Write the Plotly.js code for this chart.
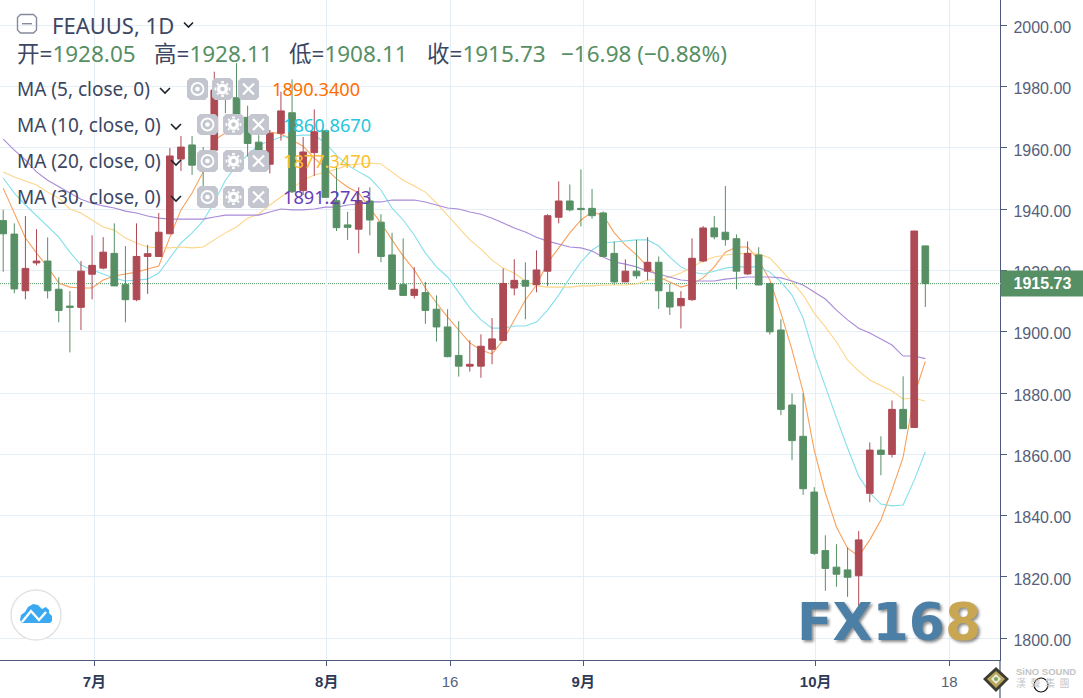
<!DOCTYPE html>
<html>
<head>
<meta charset="utf-8">
<script src="https://cdn.plot.ly/plotly-3.0.1.min.js"></script>
<style>html,body{margin:0;padding:0;background:#fff;overflow:hidden}#chart{width:1083px;height:698px}</style>
</head>
<body>
<div id="chart"></div>
<script>
const opens=[1936.3,1931.9,1913.4,1922.5,1923.1,1913.9,1908.4,1908.0,1918.8,1920.8,1925.6,1915.4,1910.5,1924.6,1924.6,1932.0,1956.4,1961.0,1958.4,1959.3,1980.9,1976.4,1970.0,1961.9,1954.7,1964.8,1971.5,1946.1,1958.5,1965.6,1942.8,1934.9,1933.5,1942.7,1935.8,1925.1,1915.4,1911.9,1912.8,1907.4,1901.6,1892.3,1888.8,1888.8,1894.3,1897.2,1914.3,1916.8,1915.4,1919.8,1937.4,1942.7,1940.3,1940.3,1938.8,1925.6,1916.3,1919.8,1919.8,1922.7,1912.9,1908.5,1910.5,1923.1,1933.9,1932.5,1930.4,1918.9,1925.1,1915.8,1900.6,1876.1,1865.9,1847.7,1828.6,1823.2,1822.3,1820.4,1847.3,1861.4,1860.0,1874.7,1868.8,1928.05];
const highs=[1939.8,1935.4,1937.8,1933.5,1930.8,1917.8,1913.3,1923.1,1931.5,1930.9,1935.4,1928.0,1935.4,1928.4,1938.8,1960.0,1963.9,1963.9,1960.3,1984.9,1982.2,1987.7,1973.8,1964.2,1965.9,1978.4,1982.4,1963.6,1972.6,1965.9,1953.9,1939.2,1947.2,1947.2,1938.4,1932.3,1930.5,1921.1,1916.3,1911.9,1907.4,1903.5,1897.2,1899.2,1904.5,1920.7,1923.7,1922.7,1926.6,1938.4,1949.1,1948.1,1953.0,1946.6,1939.3,1929.5,1923.7,1930.0,1930.9,1924.6,1915.6,1913.3,1930.5,1934.5,1937.8,1947.6,1931.8,1929.5,1927.6,1916.0,1904.1,1879.9,1879.9,1849.3,1833.6,1830.7,1829.7,1835.0,1863.9,1865.9,1877.6,1885.5,1932.9,1928.11];
const lows=[1919.6,1912.6,1910.6,1921.7,1910.9,1903.1,1893.3,1900.6,1910.6,1920.4,1914.9,1903.1,1910.0,1912.4,1924.5,1931.9,1952.5,1951.2,1947.6,1957.7,1971.4,1969.8,1957.2,1957.7,1951.7,1962.4,1945.3,1944.7,1950.9,1943.7,1932.9,1930.0,1925.6,1931.5,1922.7,1913.6,1911.7,1910.9,1902.6,1896.8,1891.7,1885.4,1887.0,1885.0,1889.4,1897.1,1911.9,1904.1,1912.9,1914.9,1935.4,1939.3,1934.4,1936.9,1924.5,1915.4,1916.2,1917.3,1916.8,1907.5,1905.5,1901.1,1910.1,1922.7,1930.2,1928.1,1913.9,1918.6,1915.2,1899.1,1872.8,1858.1,1846.8,1827.2,1815.5,1816.8,1813.5,1810.6,1844.4,1853.2,1859.0,1868.3,1868.6,1908.11];
const closes=[1932.0,1914.0,1920.7,1923.1,1913.4,1907.0,1908.0,1919.8,1921.7,1926.0,1915.0,1910.5,1924.6,1925.5,1932.5,1957.4,1960.3,1954.4,1953.5,1978.9,1977.0,1971.0,1961.5,1959.3,1964.8,1972.1,1945.7,1958.7,1965.3,1943.9,1934.0,1934.1,1942.8,1936.5,1924.6,1913.9,1911.9,1913.9,1907.0,1901.6,1891.9,1888.8,1889.4,1895.3,1897.7,1915.8,1916.8,1914.9,1920.2,1937.9,1942.7,1939.8,1939.9,1937.9,1924.6,1916.3,1919.8,1918.3,1922.7,1913.4,1908.1,1910.9,1924.0,1933.9,1931.0,1930.1,1919.8,1925.6,1915.3,1900.0,1874.7,1864.5,1848.8,1827.7,1822.8,1820.9,1819.9,1832.1,1861.4,1860.0,1874.7,1868.4,1932.9,1915.73];

const ma5=[1946.9,1938.8,1930.6,1925.7,1921.2,1915.9,1914.6,1914.3,1914.3,1916.9,1918.2,1918.9,1919.5,1920.5,1921.5,1930.9,1939.8,1945.3,1952.2,1962.6,1964.9,1966.8,1967.5,1966.5,1965.2,1964.6,1962.6,1960.6,1956.7,1953.5,1949.9,1947.3,1945.3,1940.4,1935.5,1930.0,1924.7,1920.2,1914.3,1909.4,1904.8,1900.6,1896.4,1894.1,1892.8,1897.3,1903.9,1910.4,1915.3,1922.5,1927.4,1932.3,1936.5,1939.1,1938.1,1932.3,1928.3,1925.1,1921.2,1917.9,1916.3,1914.6,1915.6,1917.6,1921.2,1926.0,1927.7,1927.7,1923.4,1916.9,1906.1,1894.1,1880.4,1861.4,1847.4,1836.3,1829.4,1826.8,1832.1,1838.6,1848.4,1859.1,1879.4,1890.34];
const ma10=[1950.2,1945.3,1941.4,1937.8,1934.2,1930.9,1926.0,1921.8,1920.2,1918.9,1917.6,1916.6,1916.9,1917.2,1919.2,1924.1,1929.0,1932.3,1936.2,1942.4,1949.5,1954.4,1957.7,1961.0,1962.3,1963.6,1963.9,1964.2,1964.2,1961.6,1957.7,1954.4,1952.2,1950.2,1946.3,1940.4,1936.5,1931.6,1925.7,1921.2,1917.9,1912.7,1907.8,1903.9,1901.2,1901.2,1901.9,1901.9,1903.2,1907.1,1912.0,1917.6,1922.8,1926.7,1929.0,1929.3,1929.6,1930.0,1930.0,1928.0,1924.4,1921.2,1919.5,1918.9,1919.8,1920.8,1921.2,1921.2,1921.2,1919.5,1916.3,1912.0,1904.5,1892.4,1882.0,1871.9,1862.1,1852.9,1847.4,1843.8,1843.2,1843.5,1851.6,1860.87];
const ma20=[1952.2,1950.5,1949.2,1947.9,1945.6,1943.7,1940.1,1938.8,1936.5,1934.2,1933.2,1930.6,1929.0,1927.7,1927.4,1927.4,1927.7,1927.4,1927.7,1930.0,1932.3,1934.2,1937.1,1938.4,1941.4,1944.0,1946.9,1949.5,1951.2,1952.2,1953.1,1954.4,1954.8,1955.1,1954.8,1952.2,1949.5,1947.6,1945.6,1942.0,1938.1,1933.9,1930.0,1927.0,1923.4,1920.8,1919.2,1916.6,1915.0,1914.6,1914.6,1914.6,1915.0,1915.0,1915.3,1915.3,1915.3,1915.6,1916.9,1916.9,1917.9,1919.2,1921.2,1923.1,1924.4,1925.1,1925.4,1925.7,1925.4,1924.1,1920.2,1916.3,1912.0,1906.1,1901.6,1896.7,1890.8,1887.2,1884.3,1882.6,1880.7,1878.1,1878.4,1877.35];
const ma30=[1962.9,1959.3,1956.1,1952.2,1949.5,1947.3,1945.3,1943.3,1942.0,1941.1,1940.4,1939.4,1938.8,1937.8,1937.1,1936.8,1936.8,1936.8,1936.8,1937.5,1938.1,1938.1,1938.1,1938.1,1939.1,1940.1,1939.8,1939.8,1940.1,1940.7,1940.7,1941.4,1941.7,1942.4,1942.4,1943.0,1943.0,1943.0,1942.4,1941.4,1940.4,1940.1,1939.1,1938.4,1937.1,1935.5,1933.9,1932.6,1930.9,1929.6,1928.7,1927.7,1927.4,1926.4,1924.4,1922.8,1922.1,1921.2,1919.8,1918.9,1917.9,1916.9,1916.6,1916.6,1916.6,1917.2,1917.6,1917.9,1917.9,1917.9,1917.6,1916.6,1915.3,1913.0,1910.7,1907.1,1903.9,1901.2,1899.6,1897.7,1895.7,1892.1,1892.1,1891.27];

const xTickPositions=[8.2,29.12,40.22,52.21,73.13,85.16];
const xTickLabels=['<b>7月</b>','<b>8月</b>','<span style="color:#565f7a">16</span>','<b>9月</b>','<b>10月</b>','<span style="color:#565f7a">18</span>'];
const yTicks=[1800,1820,1840,1860,1880,1900,1920,1940,1960,1980,2000];
const lastPrice=1915.73;
const barIndex=opens.map((_,i)=>i);

const UP='#ae4a54', DOWN='#578f65';
const GREEN='#578f65', INK='#3c4763';
const xRange=[-0.288,89.72], yRange=[1792.9,2008.3];

// overlay helpers (screen-pixel furniture only)
const X=p=>p/1000, Y=p=>1-p/660;
const shapes=[], notes=[];
function seg(x0,y0,x1,y1,color,w){shapes.push({type:'line',xref:'paper',yref:'paper',x0:X(x0),y0:Y(y0),x1:X(x1),y1:Y(y1),line:{color:color,width:w}});}
function poly(pts,fill,close){const d=pts.map((p,i)=>(i?'L':'M')+X(p[0])+','+Y(p[1])).join(' ')+(close?' Z':'');shapes.push({type:'path',xref:'paper',yref:'paper',path:d,fillcolor:fill,line:{width:0}});}
function line(pts,color,w){const d=pts.map((p,i)=>(i?'L':'M')+X(p[0])+','+Y(p[1])).join(' ');shapes.push({type:'path',xref:'paper',yref:'paper',path:d,line:{color:color,width:w}});}
function circ(cx,cy,r,fill,color,w){shapes.push({type:'circle',xref:'paper',yref:'paper',x0:X(cx-r),x1:X(cx+r),y0:Y(cy+r),y1:Y(cy-r),fillcolor:fill,line:{color:color,width:w}});}
function rrect(x0,y0,x1,y1,r,fill,color,w){const k=[[x0+r,y0],[x1-r,y0],[x1,y0+r],[x1,y1-r],[x1-r,y1],[x0+r,y1],[x0,y1-r],[x0,y0+r]];const d=k.map((p,i)=>(i?'L':'M')+X(p[0])+','+Y(p[1])).join(' ')+' Z';shapes.push({type:'path',xref:'paper',yref:'paper',path:d,fillcolor:fill,line:color?{color:color,width:w}:{width:0}});}
const FONT='"Noto Sans","Noto Sans CJK SC",sans-serif';
const NUMFONT='"Liberation Sans","Noto Sans CJK SC",sans-serif';
function note(text,x,y,size,color,opt){notes.push(Object.assign({xref:'paper',yref:'paper',x:X(x),y:Y(y),text:text,showarrow:false,xanchor:'left',yanchor:'middle',borderpad:0,font:{family:FONT,size:size,color:color}},opt||{}));}
function chevron(x0,y0,x1,y1){line([[x0,y0],[(x0+x1)/2,y1],[x1,y0]],'#1e222d',1.6);}
function buttons(ex,gx,cx,y0,y1){
  const BTN='#c3c6cf',cy=(y0+y1)/2;
  [ex,gx,cx].forEach(b=>rrect(b,y0,b+21,y1,3,BTN));
  circ(ex+10.5,cy,6,'rgba(0,0,0,0)','#fff',1.8);circ(ex+10.5,cy,2.3,'#fff','#fff',0);
  circ(gx+10.5,cy,5.5,'#fff','#fff',0);circ(gx+10.5,cy,2.2,BTN,BTN,0);
  [[-7,-1.5,-7,1.5],[7,-1.5,7,1.5],[-1.5,-7,1.5,-7],[-1.5,7,1.5,7],[-5.5,-4,-4,-5.5],[5.5,-4,4,-5.5],[-5.5,4,-4,5.5],[5.5,4,4,5.5]].forEach(v=>seg(gx+10.5+v[0],cy+v[1],gx+10.5+v[2],cy+v[3],'#fff',1.8));
  seg(cx+5,cy-5.5,cx+16,cy+5.5,'#fff',2.2);seg(cx+16,cy-5.5,cx+5,cy+5.5,'#fff',2.2);
}

// price line + axis extension
shapes.push({type:'line',xref:'paper',yref:'y',x0:0,x1:1,y0:lastPrice,y1:lastPrice,layer:'below',line:{color:'#4f9460',width:1,dash:'1px,1px'}});
seg(1000,660,1000,698,'#4c5a7d',1.2);

// header
rrect(17.5,14.5,36.5,33,3,'rgba(0,0,0,0)','#858b9b',1.4);
seg(22,23.7,32,23.7,'#858b9b',1.4);
note('FEAUUS, 1D',51,25,22,INK);
chevron(184,22.5,193,27);
const g=v=>'<span style="color:'+GREEN+'">'+v+'</span>';
note('开='+g('1928.05'),16,53,22.5,INK);
note('高='+g('1928.11'),153,53,22.5,INK);
note('低='+g('1908.11'),288,53,22.5,INK);
note('收='+g('1915.73'),426,53,22.5,INK);
note(g('−16.98 (−0.88%)'),560,53,22.5,INK);

// indicator rows
note('MA (5, close, 0)',16,89,19,INK);chevron(160,88,170,93);buttons(187,212,238,78,100);note('1890.3400',271,89,18.2,'#ff6d00');
note('MA (10, close, 0)',16,125,19,INK);chevron(171,124,181,129);buttons(197,223,248,114,135);note('1860.8670',282,125,18.2,'#26c6da');
note('MA (20, close, 0)',16,161,19,INK);chevron(171,160,181,165);buttons(197,223,248,150,172);note('1877.3470',282,161,18.2,'#fbc02d');
note('MA (30, close, 0)',16,197,19,INK);chevron(171,196,181,201);buttons(197,223,248,186,208);note('1891.2743',282,197,18.2,'#673ab7');

// cloud badge
circ(36,615,25,'#fff','#e3e3e3',1.5);
poly([[20,620],[21,615],[25,612],[28,607],[33,604],[38,605],[42,609],[46,607],[49,610],[49,613],[52,616],[52,621],[50,623],[22,623]],'#3aa9f2',true);
line([[22,622],[31,611],[39,620],[46,612]],'#fff',2.4);

// watermark
note('FX16<span style="color:#c9a652">8</span>',796,622,52,'#4c7fa6',{font:{family:'"DejaVu Sans"',size:52,color:'#4c7fa6',weight:700,shadow:'2px 2px 3px rgba(0,0,0,.45)'}});

// bottom-right marks
poly([[996,667],[1009,679],[996,692],[983,679]],'#3c3c32',true);
poly([[996,671],[1005,679],[996,688],[987,679]],'#b8a65a',true);
poly([[996,674],[1001,679],[996,684],[991,679]],'#e8ecdc',true);
circ(996,679,2,'#7fa25a','#7fa25a',0);
note('SiNO SOUND',1015,671,9.5,'#c4c4c4',{font:{family:NUMFONT,size:9.5,color:'#c4c4c4',weight:700}});
note('漢  聲  集  團',1015,682,10,'#c8c8c8',{font:{family:'"Noto Sans CJK TC"',size:10,color:'#c8c8c8'}});
circ(1041,685,7,'rgba(0,0,0,0)','#111',1.2);

// price tag
notes.push({xref:'paper',yref:'y',x:1,y:lastPrice,xanchor:'left',yanchor:'middle',showarrow:false,width:83,height:25,align:'center',bgcolor:GREEN,borderpad:0,text:'<b>1915.73</b>',font:{family:NUMFONT,size:16,color:'#fff'}});
seg(1000,283.6,1006,283.6,'#fff',1);

const ma=(name,v,c)=>({type:'scatter',mode:'lines',name:name,x:barIndex,y:v,line:{color:c,width:1.1},yaxis:'y',hoverinfo:'skip'});
const traces=[
  ma('MA5',ma5,'#f9a05c'),
  ma('MA10',ma10,'#84dfea'),
  ma('MA20',ma20,'#fdd587'),
  ma('MA30',ma30,'#a88bd8'),
  {type:'candlestick',x:barIndex,open:opens,high:highs,low:lows,close:closes,yaxis:'y2',whiskerwidth:0,
   increasing:{line:{color:UP,width:1},fillcolor:UP},decreasing:{line:{color:DOWN,width:1},fillcolor:DOWN}}
];
const layout={
  width:1083,height:698,margin:{l:0,r:83,t:0,b:38,pad:0},
  paper_bgcolor:'#fff',plot_bgcolor:'#fff',showlegend:false,boxgap:0.225,boxgroupgap:0.225,
  xaxis:{range:xRange,tickmode:'array',tickvals:xTickPositions,ticktext:xTickLabels,showgrid:true,gridcolor:'#e6eef5',gridwidth:1,zeroline:false,
    showline:true,linecolor:'#4c5a7d',linewidth:1.2,ticks:'outside',ticklen:5,tickcolor:'#4c5a7d',tickfont:{family:NUMFONT,size:15,color:'#2f3a57'},ticklabelstandoff:3,
    rangeslider:{visible:false},fixedrange:true},
  yaxis:{range:yRange,side:'right',tickmode:'array',tickvals:yTicks,ticktext:yTicks.map(v=>v.toFixed(2)),showgrid:true,gridcolor:'#e6eef5',gridwidth:1,zeroline:false,
    showline:true,linecolor:'#4c5a7d',linewidth:1.2,ticks:'outside',ticklen:6,tickcolor:'#4c5a7d',tickfont:{family:NUMFONT,size:16,color:'#565f7a'},ticklabelstandoff:3,ticklabelshift:2,fixedrange:true},
  yaxis2:{range:yRange,overlaying:'y',side:'right',visible:false,fixedrange:true},
  shapes:shapes,annotations:notes
};
Plotly.newPlot('chart',traces,layout,{displayModeBar:false,staticPlot:true});
</script>
</body>
</html>
